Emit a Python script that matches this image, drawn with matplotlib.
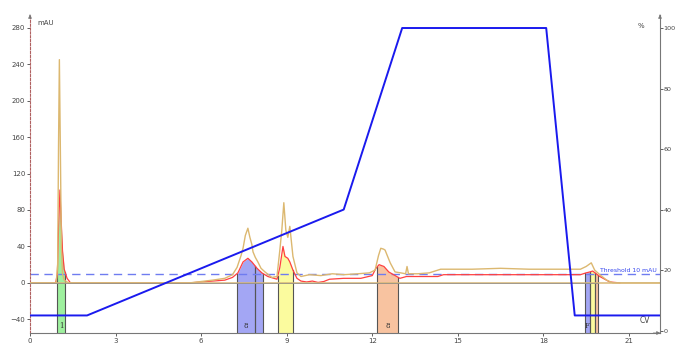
import numpy as np
import matplotlib.pyplot as plt

# UV trace 1 (tan) and UV trace 2 (red), in mAU against column volumes
uv1_cv = [0.0, 0.92, 0.97, 1.00, 1.03, 1.06, 1.10, 1.14, 1.20, 1.35, 5.6, 6.4, 6.83, 7.10, 7.26,
          7.40, 7.47, 7.55, 7.64, 7.71, 7.78, 7.82, 7.90, 7.99, 8.10, 8.24, 8.48, 8.66, 8.76, 8.83,
          8.90, 8.97, 9.04, 9.11, 9.22, 9.36, 9.50, 9.8, 10.2, 10.6, 11.0, 11.5, 11.9, 12.10, 12.22,
          12.30, 12.40, 12.45, 12.63, 12.80, 13.0, 13.17, 13.22, 13.27, 13.6, 14.0, 14.4, 15.5,
          16.5, 17.5, 18.5, 19.3, 19.5, 19.68, 19.80, 19.98, 20.22, 20.44, 22.3]
uv1_mau = [0, 0, 20, 150, 245, 160, 40, 10, 3, 0, 0, 3, 5, 9, 17,
           30, 38, 52, 60, 50, 42, 34, 28, 23, 16, 12, 6, 7, 36, 58,
           88, 58, 50, 62, 29, 11, 7, 9, 8, 10, 9, 10, 11, 14, 30,
           38, 37, 36, 22, 12, 11, 10, 18, 10, 10, 11, 15, 15,
           16, 15, 15, 15, 18, 22, 14, 9, 3, 0, 0]

uv2_cv = [0.0, 0.90, 0.96, 1.00, 1.05, 1.09, 1.14, 1.20, 1.30, 1.42, 5.6, 6.4, 6.83, 7.10, 7.29,
          7.47, 7.64, 7.78, 7.96, 8.13, 8.34, 8.66, 8.76, 8.87, 8.94, 9.04, 9.11, 9.22, 9.36, 9.5,
          9.7, 9.9, 10.1, 10.3, 10.5, 11.0, 11.6, 12.0, 12.13, 12.24, 12.41, 12.58, 12.97, 13.2,
          14.3, 14.5, 19.3, 19.5, 19.63, 19.73, 19.98, 20.33, 20.68]
uv2_mau = [0, 0, 10, 60, 102, 70, 35, 15, 5, 0, 0, 2, 3, 6, 11,
           23, 27, 23, 16, 11, 7, 4, 17, 40, 29, 27, 23, 14, 5, 2,
           1, 2, 0.5, 1.5, 4, 5, 5, 8, 16, 20, 18, 12, 5, 7,
           7, 9, 9, 11, 12, 13, 7, 1, 0]

# gradient (% B)
grad_cv = [0.0, 2.0, 11.0, 13.05, 18.1, 19.1, 22.2]
grad_pct = [5, 5, 40, 100, 100, 5, 5]

threshold = 10

# collected fractions: start, end, colour, label
frac_start = [0.95, 7.26, 7.89, 8.69, 12.16, 19.45, 19.63, 19.80]
frac_end = [1.23, 7.89, 8.17, 9.22, 12.90, 19.63, 19.80, 19.91]
frac_color = ['#9ef09e', '#a3a6f4', '#a3a6f4', '#fbfb9e', '#f8c3a0', '#a3a6f4', '#fbfb9e', '#f8c3a0']
frac_label = ['1', '8', '', '', '8', 'F', '', '']

fig = plt.figure(figsize=(6.76, 3.43), dpi=100)
ax = fig.add_axes([30 / 676, 10 / 343, 630 / 676, 318 / 343])
ax2 = ax.twinx()

ymin = -55
ax.set_xlim(0, 22.09)
ax.set_ylim(ymin, 294)
ax2.set_ylim(-0.8, 104.3)

# fraction blocks filled up to the UV2 trace
for s, e, c, lab in zip(frac_start, frac_end, frac_color, frac_label):
    xs = np.linspace(s, e, 30)
    top = np.interp(xs, uv2_cv, uv2_mau)
    ax.fill_between(xs, ymin, top, color=c, lw=0, zorder=1)
    ax.plot([s, s], [ymin, np.interp(s, uv2_cv, uv2_mau)], color='#555555', lw=0.8, zorder=2)
    ax.plot([e, e], [ymin, np.interp(e, uv2_cv, uv2_mau)], color='#555555', lw=0.8, zorder=2)
    if lab:
        ax.text((s + e) / 2, ymin + 3, lab, fontsize=5, ha='center', va='bottom',
                color='#333333', family='serif', zorder=3)

ax.plot(uv1_cv, uv1_mau, color='#dcb870', lw=1, zorder=3)
ax.plot(uv2_cv, uv2_mau, color='#ff4040', lw=0.9, zorder=2.5)
ax.axhline(0, color='#d8b878', lw=1.1, zorder=3.5)
ax.plot([0, 19.9], [0, 0], color='#888888', lw=0.5, zorder=3.6)
ax.axhline(threshold, color='#6f7cf0', lw=1, ls=(0, (6, 4)), zorder=2)
ax.text(20.0, threshold + 1, 'Threshold 10 mAU', fontsize=4.4, color='#3344ee',
        ha='left', va='bottom', zorder=4)

ax2.plot(grad_cv, grad_pct, color='#1a1aee', lw=1.4, zorder=4)

# axes styling
ax.set_xticks([0, 3, 6, 9, 12, 15, 18, 21])
ax.set_yticks([-40, 0, 40, 80, 120, 160, 200, 240, 280])
ax2.set_yticks([0, 20, 40, 60, 80, 100])
for a in (ax, ax2):
    a.tick_params(labelsize=5, length=2.5, width=0.6, colors='#444444', pad=1)
    a.spines['top'].set_visible(False)
ax2.tick_params(labelsize=4.6, length=2, pad=0.5)
ax.spines['left'].set_color('#b06060')
ax.spines['left'].set_linestyle((0, (2, 1.5)))
ax.spines['left'].set_linewidth(0.8)
ax.spines['bottom'].set_color('#777777')
ax2.spines['right'].set_color('#777777')
ax2.spines['left'].set_visible(False)
ax2.spines['bottom'].set_visible(False)
ax.spines['right'].set_visible(False)

ax.text(0.012, 0.985, 'mAU', transform=ax.transAxes, fontsize=5, color='#444444',
        ha='left', va='top')
ax.text(0.975, 0.975, '%', transform=ax.transAxes, fontsize=5, color='#444444',
        ha='right', va='top')
ax.text(0.985, 0.025, 'CV', transform=ax.transAxes, fontsize=5.5, color='#444444',
        ha='right', va='bottom')
ax.annotate('', xy=(1.005, 0), xytext=(0.985, 0), xycoords='axes fraction',
            arrowprops=dict(arrowstyle='-|>', color='#777777', lw=0.6, mutation_scale=5))
ax.annotate('', xy=(0, 1.01), xytext=(0, 0.99), xycoords='axes fraction',
            arrowprops=dict(arrowstyle='-|>', color='#777777', lw=0.6, mutation_scale=5))
ax.annotate('', xy=(1, 1.01), xytext=(1, 0.99), xycoords='axes fraction',
            arrowprops=dict(arrowstyle='-|>', color='#777777', lw=0.6, mutation_scale=5))

fig.savefig('out.png', dpi=100)
